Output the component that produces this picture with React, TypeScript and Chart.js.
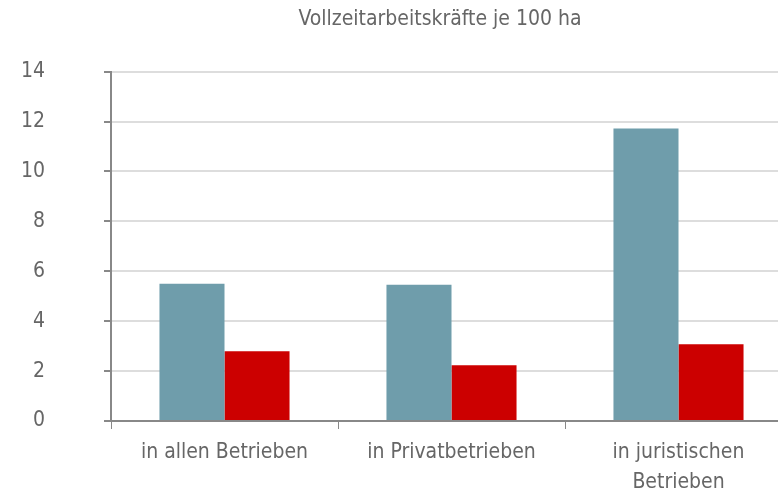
import React, { useEffect, useRef } from "react";
import { Chart, registerables } from "chart.js";

Chart.register(...registerables);

const categories: (string | string[])[] = [
  "in allen Betrieben",
  "in Privatbetrieben",
  ["in juristischen", "Betrieben"],
];
const seriesBlue = [5.5, 5.46, 11.72];
const seriesRed = [2.79, 2.23, 3.08];
const titleText = "Vollzeitarbeitskräfte je 100 ha";

const FONT = "'DejaVu Sans Condensed', 'Liberation Sans Narrow', sans-serif";

export default function App() {
  const ref = useRef<HTMLCanvasElement | null>(null);
  useEffect(() => {
    if (!ref.current) return;
    const chart = new Chart(ref.current, {
      type: "bar",
      data: {
        labels: categories,
        datasets: [
          { data: seriesBlue, backgroundColor: "#6f9dab", borderWidth: 0 },
          { data: seriesRed, backgroundColor: "#cc0000", borderWidth: 0 },
        ],
      },
      options: {
        responsive: false,
        animation: false,
        layout: { padding: 0 },
        datasets: { bar: { categoryPercentage: 0.573, barPercentage: 1 } },
        plugins: {
          legend: { display: false },
          tooltip: { enabled: false },
          title: {
            display: true,
            fullSize: true,
            text: titleText,
            color: "#666666",
            font: { family: FONT, size: 21, weight: "normal", lineHeight: 1.2 },
            padding: { top: 5.4, bottom: 39.4 },
          },
        },
        scales: {
          x: {
            grid: { display: true, drawOnChartArea: false, drawTicks: true, tickLength: 8, color: "#888888", tickColor: "#888888", offset: true },
            border: { display: true, color: "#888888", width: 2 },
            ticks: { color: "#666666", font: { family: FONT, size: 21, lineHeight: 1.4 }, padding: 9, maxRotation: 0, autoSkip: false },
            afterFit: (s: any) => { s.height = 74; },
          },
          y: {
            min: 0,
            max: 14,
            ticks: { stepSize: 2, color: "#666666", font: { family: FONT, size: 21 }, padding: 59 },
            grid: { color: "#dddddd", tickColor: "#888888", tickLength: 7, lineWidth: 2 },
            border: { display: true, color: "#888888", width: 2 },
            afterFit: (s: any) => { s.width = 111; },
          },
          yPad: {
            position: "right",
            min: 0,
            max: 14,
            display: true,
            ticks: { display: false },
            grid: { display: false, drawOnChartArea: false },
            border: { display: false },
            afterFit: (s: any) => { s.width = 88; },
          },
        },
      },
    });
    return () => chart.destroy();
  }, []);
  return (
    <div style={{ position: "fixed", left: 0, top: 0, width: 778, height: 495, overflow: "hidden", background: "#fff" }}>
      <canvas ref={ref} width={880} height={495} style={{ display: "block" }} />
    </div>
  );
}
